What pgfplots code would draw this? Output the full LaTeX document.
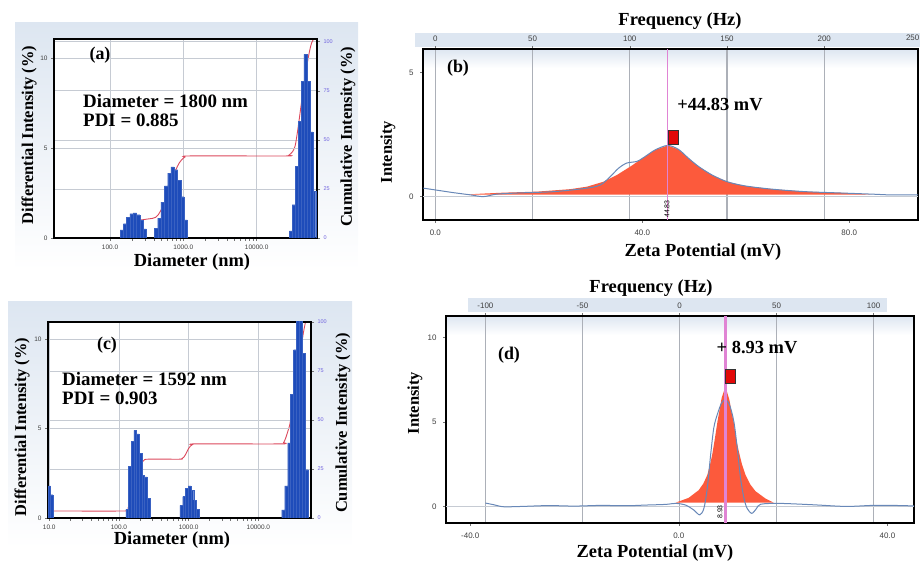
\documentclass[border=0pt]{standalone}
\usepackage{fontspec}
\setmainfont{Liberation Serif}
\newfontfamily\tickfont{Liberation Sans}
\usepackage{pgfplots}
\pgfplotsset{compat=1.18}

\definecolor{barblue}{RGB}{30,76,186}
\definecolor{cumred}{RGB}{220,72,92}
\definecolor{gridgray}{RGB}{198,203,211}
\definecolor{vgrid}{RGB}{172,176,184}
\definecolor{rightlab}{RGB}{112,98,222}
\definecolor{zetared}{RGB}{252,90,60}
\definecolor{zetablue}{RGB}{104,136,184}
\definecolor{peakpink}{RGB}{224,132,212}
\definecolor{bandblue}{RGB}{221,230,241}
\definecolor{markred}{RGB}{226,8,8}

\newcommand\lab[1]{\bfseries\fontsize{#1}{#1}\selectfont}

\pgfplotsset{
  panel/.style={
    scale only axis, anchor=south west, clip=true,
    axis line style={line width=2.4bp},
    tick align=outside, major tick length=3bp,
    tick style={black!55, line width=0.5bp},
    ticklabel style={font=\tickfont\fontsize{6.5}{7}\selectfont, text=black!75},
    /pgf/number format/assume math mode=true,
    grid style={gridgray, line width=0.7bp},
  },
  cumaxis/.style={
    axis line style={draw=none}, axis background/.style={fill=white},
    xmajorgrids, xticklabels={}, xtick pos=left,
    ytick={0,25,50,75,100}, ymajorgrids, ytick pos=right, yticklabel pos=right,
    yticklabel style={text=rightlab, font=\tickfont\fontsize{5.5}{6}\selectfont},
  },
  bars/.style={ybar interval, fill=barblue, draw=barblue!88!white, line width=0.15bp},
  zeta/.style={
    ticklabel style={font=\tickfont\fontsize{8}{9}\selectfont, text=black!75},
  },
}

\begin{document}
\begin{tikzpicture}[x=1bp,y=1bp]
\useasboundingbox (0,0) rectangle (920,563);

% panel backgrounds
\shade[top color=bandblue, bottom color=white] (15,293) rectangle (358,540);
\shade[top color=bandblue, bottom color=white] (8,15) rectangle (352,261);
\fill[bandblue] (415,516) rectangle (920,530);
\fill[bandblue] (468,251) rectangle (887,265);
\fill[white] (423,343) rectangle (918,514);
\shade[top color=bandblue, bottom color=white] (423,495) rectangle (918,514);
\fill[white] (446,40) rectangle (914,247);
\shade[top color=bandblue, bottom color=white] (446,228) rectangle (914,247);

% ---------------- (a) ----------------
\begin{axis}[panel, cumaxis, xmode=log, at={(54bp,325bp)}, width=263bp, height=199bp,
  xmin=17.2, xmax=66500, ymin=0, ymax=101.4, xtick={100,1000,10000}]
\addplot[cumred, line width=0.9bp, smooth, tension=0.4] coordinates {
  (137,0.3) (160,2) (190,5) (220,7.5) (250,9.0) (269,9.2) (316,9.6) (380,10.0)
  (417,10.5) (457,12.0) (501,14.5) (550,18.0) (603,22.5) (661,27.0) (724,31.5)
  (794,35.0) (871,38.0) (955,40.0) (1047,41.2) (1202,41.8) (25120,41.8)
  (27540,42.2) (30900,44.0) (33500,47.0) (36310,55.0) (39810,66.0) (43650,77.0)
  (47860,87.0) (52480,95.0) (56230,99.5) (60260,101.5) (66500,104)};
\end{axis}
\begin{axis}[panel, at={(54bp,325bp)}, width=263bp, height=199bp,
  xmode=log, xmin=17.2, xmax=66500, ymin=0, ymax=11.06,
  xtick={100,1000,10000}, xticklabels={100.0,1000.0,10000.0}, xtick pos=left,
  ytick={0,5,10}, ytick pos=left, ymajorgrids]
\addplot[bars] coordinates {(137,0.45) (152,0.8) (168,1.15) (187,1.35) (207,1.4)
  (230,1.3) (255,1.0) (283,0.5) (313,0)};
\addplot[bars] coordinates {(403,0.55) (447,1.1) (495,2.0) (550,2.9) (610,3.6)
  (676,3.95) (750,3.8) (832,3.2) (923,2.3) (1023,1.0) (1135,0)};
\addplot[bars] coordinates {(27860,0.4) (30550,1.85) (33500,4.0) (36730,6.5)
  (40270,8.7) (44160,10.2) (48420,8.7) (53090,5.9) (58210,2.6) (63830,0)};
\end{axis}

% ---------------- (c) ----------------
\begin{axis}[panel, cumaxis, xmode=log, at={(48bp,45bp)}, width=263bp, height=196bp,
  xmin=9.6, xmax=56900, ymin=0, ymax=100, xtick={10,100,1000,10000}]
\addplot[cumred, line width=0.9bp, smooth, tension=0.4] coordinates {
  (9.6,3.6) (126,3.6) (135,5) (150,11) (165,18) (185,24) (205,27.5) (230,29.5)
  (260,30) (750,30) (800,30.3) (850,31) (900,32.3) (950,34) (1000,35.5)
  (1060,36.7) (1130,37.4) (1230,37.8) (21580,37.8) (23000,38.5) (24500,40.5)
  (26850,44.9) (28400,48) (31000,57) (34000,67) (37500,78) (41000,87)
  (44500,95) (47500,100) (52000,104)};
\end{axis}
\begin{axis}[panel, at={(48bp,45bp)}, width=263bp, height=196bp,
  xmode=log, xmin=9.6, xmax=56900, ymin=0, ymax=10.95,
  xtick={10,100,1000,10000}, xticklabels={10.0,100.0,1000.0,10000.0}, xtick pos=left,
  ytick={0,5,10}, ytick pos=left, ymajorgrids]
\addplot[bars] coordinates {(9.6,1.8) (10.4,1.3) (11.3,0)};
\addplot[bars] coordinates {(125.9,0.5) (137.4,2.9) (150.0,4.3) (163.7,4.9)
  (178.6,4.7) (195.0,3.6) (212.8,2.4) (232.3,2.3) (253.5,1.1) (276.7,0)};
\addplot[bars] coordinates {(750,0.7) (822,1.2) (900,1.65) (986,1.8) (1079,1.55)
  (1183,1.0) (1297,0.5) (1419,0)};
\addplot[bars] coordinates {(21580,0.45) (23800,1.8) (26240,4.2) (28940,6.9)
  (31920,9.4) (35200,11.5) (38820,11.5) (42810,9.2) (47210,2.7) (52070,0)};
\end{axis}

% ---------------- (b) ----------------
\begin{axis}[panel, zeta, at={(423bp,343bp)}, width=495bp, height=171bp,
  xmin=-6.3, xmax=248.2, ymin=-0.94, ymax=5.94,
  axis line style={draw=none}, ytick=\empty,
  xtick={0,50,100,150,200}, xtick pos=right, xticklabel pos=right,
  xticklabel style={yshift=1bp},
  xmajorgrids, grid style={vgrid, line width=1.1bp}]
\end{axis}
\begin{axis}[panel, zeta, at={(423bp,343bp)}, width=495bp, height=171bp,
  xmin=-2.38, xmax=93.3, ymin=-0.94, ymax=5.94,
  xtick={0,40,80}, xticklabels={0.0,40.0,80.0}, xtick pos=left,
  xticklabel style={yshift=-3bp},
  ytick={0,5}, ytick pos=left, yticklabel style={xshift=-3bp}]
\addplot[gridgray, line width=0.8bp] coordinates {(-2.38,0) (93.3,0)};
\addplot[draw=none, fill=zetared] coordinates {
  (5.5,0.08) (9,0.12) (13.2,0.16) (19.6,0.2) (26.1,0.3) (29.3,0.4) (32.5,0.6)
  (35.1,0.87) (37.7,1.21) (40.6,1.62) (42.5,1.88) (44.9,2.06) (47.0,1.9)
  (48.9,1.55) (50.9,1.21) (53.5,0.87) (56.4,0.6) (59.9,0.43) (65.1,0.3)
  (71.5,0.2) (77.9,0.16) (84.4,0.08)};
\addplot[zetablue, line width=1bp, smooth, tension=0.5] coordinates {
  (-2.3,0.34) (0.3,0.26) (3.5,0.16) (6.8,0.07) (9.3,0.0) (11.9,0.1) (16.4,0.15)
  (22.9,0.2) (29.3,0.34) (31.9,0.47) (33.8,0.8) (35.4,1.14) (37.0,1.35)
  (39.0,1.42) (40.6,1.62) (42.5,1.88) (44.9,2.06) (47.0,1.9) (48.9,1.55)
  (50.9,1.21) (53.5,0.87) (56.4,0.6) (59.9,0.43) (65.1,0.3) (71.5,0.2)
  (77.9,0.15) (84.4,0.1) (88,0.07) (93.3,0.07)};
\addplot[peakpink, line width=1.3bp] coordinates {(44.83,-0.94) (44.83,5.94)};
\addplot[only marks, mark=square*, mark size=7bp,
  mark options={xscale=0.72, fill=markred, draw=black!80, line width=0.5bp}]
  coordinates {(46.0,2.37)};
\end{axis}

% ---------------- (d) ----------------
\begin{axis}[panel, zeta, at={(446bp,40bp)}, width=468bp, height=207bp,
  xmin=-120.3, xmax=120.8, ymin=-0.98, ymax=11.26,
  axis line style={draw=none}, ytick=\empty,
  xtick={-100,-50,0,50,100}, xtick pos=right, xticklabel pos=right,
  xticklabel style={yshift=1bp},
  xmajorgrids, grid style={vgrid, line width=1.1bp}]
\end{axis}
\begin{axis}[panel, zeta, at={(446bp,40bp)}, width=468bp, height=207bp,
  xmin=-44.65, xmax=45.1, ymin=-0.98, ymax=11.26,
  xtick={-40,0,40}, xticklabels={-40.0,0.0,40.0}, xtick pos=left,
  xticklabel style={yshift=-3bp},
  ytick={0,5,10}, ytick pos=left, yticklabel style={xshift=-3bp}]
\addplot[gridgray, line width=0.8bp] coordinates {(-44.65,0) (45.1,0)};
\addplot[draw=none, fill=zetared] coordinates {
  (-0.63,0.22) (1.9,0.51) (3.8,0.96) (4.7,1.35) (5.45,1.85) (6.0,2.5) (6.4,3.06)
  (6.9,4.0) (7.4,5.0) (8.2,6.4) (8.93,7.08) (9.7,6.3) (10.1,5.6) (10.56,4.93)
  (11.0,4.0) (11.5,3.25) (12.1,2.5) (12.8,1.85) (13.7,1.3) (14.7,0.9)
  (16.6,0.47) (18.2,0.22)};
\addplot[zetablue, line width=1bp, smooth, tension=0.5] coordinates {
  (-37.1,0.2) (-35.5,0.1) (-33.6,-0.02) (-30,0.0) (-25,0.05) (-20,0.02)
  (-15,0.06) (-10,0.04) (-6.4,0.08) (-2.5,0.12) (-0.6,0.18) (1.3,0.08)
  (2.9,-0.22) (4.0,-0.5) (4.8,-0.12) (5.45,1.07) (6.1,3.06) (6.7,4.64)
  (7.37,5.43) (8.2,6.12) (8.96,6.3) (9.73,6.0) (10.56,5.0) (11.2,3.45)
  (11.84,1.66) (12.5,0.47) (13.1,-0.12) (14.0,-0.41) (14.9,-0.12) (15.7,0.13)
  (19.2,0.18) (25.6,0.1) (32,0.0) (37.1,0.06) (41,0.06) (45.1,0.03)};
\addplot[peakpink, line width=2.4bp] coordinates {(8.93,-0.98) (8.93,11.26)};
\addplot[only marks, mark=square*, mark size=7bp,
  mark options={xscale=0.72, fill=markred, draw=black!80, line width=0.5bp}]
  coordinates {(9.92,7.71)};
\end{axis}

% ---------------- texts ----------------
% (a)
\node[rotate=90] at (29,428) {\lab{16.5}Differential Intensity (\%)};
\node[rotate=90] at (348,426) {\lab{16.5}Cumulative Intensity (\%)};
\node[inner sep=0pt] at (192,301) {\lab{18.5}Diameter (nm)};
\node at (100,508) {\lab{18}(a)};
\node[anchor=west, inner sep=0pt] at (83,462) {\lab{19}Diameter = 1800 nm};
\node[anchor=west, inner sep=0pt] at (83,443) {\lab{19}PDI = 0.885};
% (c)
\node[rotate=90] at (22,136) {\lab{16.5}Differential Intensity (\%)};
\node[rotate=90] at (343,140) {\lab{16.5}Cumulative Intensity (\%)};
\node[inner sep=0pt] at (172,23) {\lab{18.5}Diameter (nm)};
\node at (107,218) {\lab{18}(c)};
\node[anchor=west, inner sep=0pt] at (62,184) {\lab{19}Diameter = 1592 nm};
\node[anchor=west, inner sep=0pt] at (62,165) {\lab{19}PDI = 0.903};
% (b)
\node at (680,542) {\lab{18.5}Frequency (Hz)};
\node[rotate=90] at (388,411) {\lab{16.5}Intensity};
\node at (703,311) {\lab{18.5}Zeta Potential (mV)};
\node at (458,495) {\lab{18}(b)};
\node at (720,458) {\lab{18.5}+44.83 mV};
\node[rotate=90, inner sep=0pt] at (667,354) {\tickfont\fontsize{7}{7}\selectfont 44.83};
\node[anchor=east, inner sep=0pt] at (919.5,525) {\tickfont\fontsize{8}{9}\selectfont\color{black!75}250};
% (d)
\node at (651,275) {\lab{18.5}Frequency (Hz)};
\node[rotate=90] at (415,160) {\lab{16.5}Intensity};
\node at (655,10) {\lab{18.5}Zeta Potential (mV)};
\node at (509,208) {\lab{18}(d)};
\node at (757,215) {\lab{18.5}+ 8.93 mV};
\node[rotate=90, inner sep=0pt] at (720,51) {\tickfont\fontsize{7}{7}\selectfont 8.93};
\end{tikzpicture}
\end{document}
